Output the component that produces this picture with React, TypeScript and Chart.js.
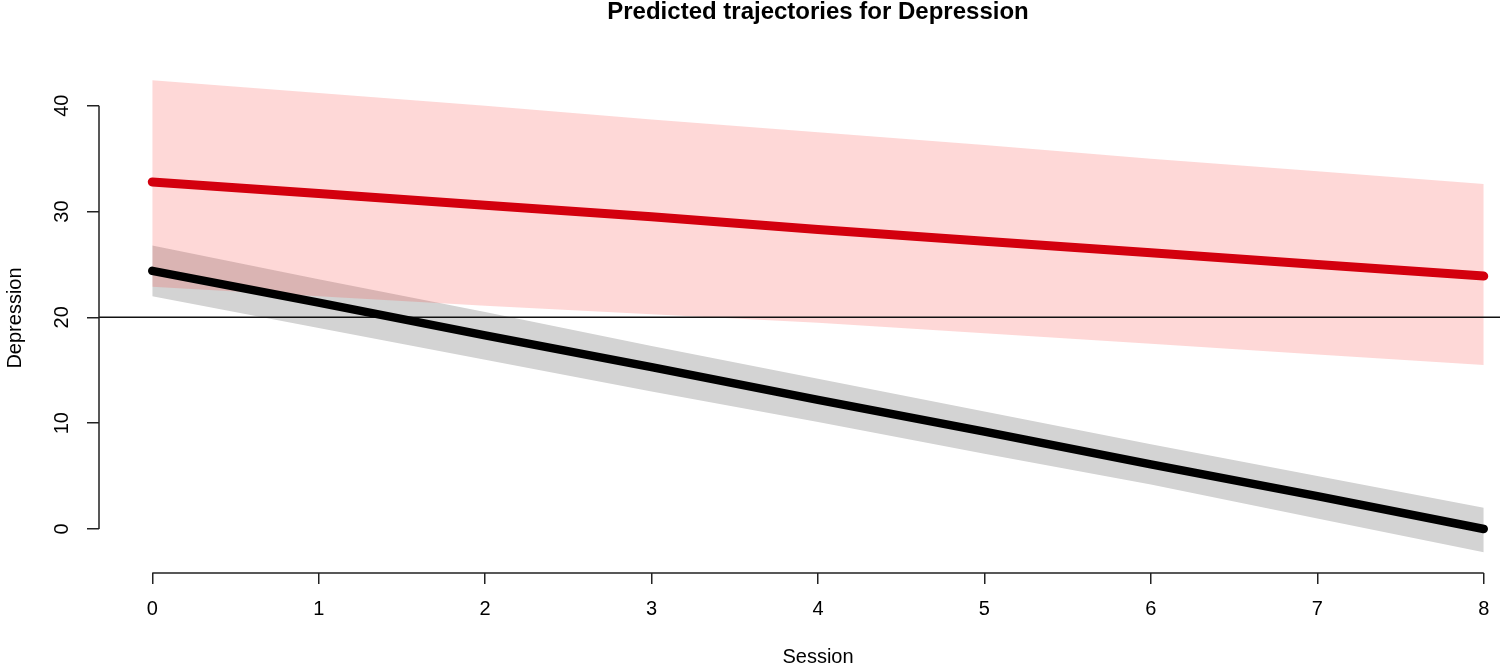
import { useEffect, useRef } from "react";
import { Chart, registerables } from "chart.js";
import type { ChartConfiguration, Plugin, Scale } from "chart.js";

Chart.register(...registerables);

// values
const sessions = [0, 1, 2, 3, 4, 5, 6, 7, 8];
const redMean = [32.8, 31.7, 30.6, 29.5, 28.3, 27.2, 26.1, 25.0, 23.9];
const redUpper = [42.4, 41.2, 40.0, 38.7, 37.5, 36.3, 35.0, 33.8, 32.6];
const redLower = [22.9, 22.0, 21.1, 20.3, 19.5, 18.5, 17.5, 16.5, 15.5];
const blackMean = [24.4, 21.4, 18.3, 15.3, 12.2, 9.2, 6.1, 3.1, 0.0];
const blackUpper = [26.8, 23.6, 20.5, 17.3, 14.2, 11.1, 8.0, 5.0, 2.0];
const blackLower = [22.0, 19.0, 16.0, 13.0, 10.1, 7.1, 4.2, 1.0, -2.2];

const threshold = 20;
const xTicks = [0, 1, 2, 3, 4, 5, 6, 7, 8];
const yTicks = [0, 10, 20, 30, 40];
const xRange = [-0.32, 8.32];
const yRange = [-4.16, 44.04];

const FONT = "'Liberation Sans', Arial, Helvetica, sans-serif";

const pts = (ys: number[]) => sessions.map((x, i) => ({ x, y: ys[i] }));

// R draws the axis line only between the first and last tick
const axisLines: Plugin<"line"> = {
  id: "axisLines",
  afterDraw(chart) {
    const { ctx, scales, chartArea } = chart;
    const xs = scales.x;
    const ys = scales.y;
    ctx.save();
    ctx.strokeStyle = "#222";
    ctx.lineWidth = 1.5;
    ctx.beginPath();
    ctx.moveTo(xs.getPixelForValue(xTicks[0]), chartArea.bottom);
    ctx.lineTo(xs.getPixelForValue(xTicks[xTicks.length - 1]), chartArea.bottom);
    ctx.moveTo(chartArea.left, ys.getPixelForValue(yTicks[0]));
    ctx.lineTo(chartArea.left, ys.getPixelForValue(yTicks[yTicks.length - 1]));
    ctx.stroke();
    ctx.restore();
  },
};

function TrajectoryChart() {
  const canvasRef = useRef<HTMLCanvasElement>(null);
  const chartInstance = useRef<Chart | null>(null);

  useEffect(() => {
    if (!canvasRef.current) return;

    const band = {
      borderWidth: 0,
      pointRadius: 0,
      tension: 0,
    };
    const line = {
      pointRadius: 0,
      tension: 0,
      borderCapStyle: "round" as const,
      borderJoinStyle: "round" as const,
      fill: false,
    };

    const config: ChartConfiguration<"line"> = {
      type: "line",
      data: {
        datasets: [
          { ...band, data: pts(blackUpper), fill: "+1", backgroundColor: "#d3d3d3", order: 10 },
          { ...band, data: pts(blackLower), fill: false, order: 10 },
          { ...band, data: pts(redUpper), fill: "+1", backgroundColor: "rgba(250, 60, 55, 0.2)", order: 9 },
          { ...band, data: pts(redLower), fill: false, order: 9 },
          {
            data: xRange.map((x) => ({ x, y: threshold })),
            borderColor: "#111",
            borderWidth: 1.5,
            pointRadius: 0,
            fill: false,
            order: 5,
          },
          { ...line, data: pts(blackMean), borderColor: "#000", borderWidth: 8.5, order: 2 },
          { ...line, data: pts(redMean), borderColor: "#d3000e", borderWidth: 9, order: 1 },
        ],
      },
      options: {
        responsive: false,
        animation: false,
        // canvas is a bit wider than the page: R's plot region runs past the cropped edge
        layout: { padding: { left: 0, right: 3, top: 0, bottom: 0 } },
        plugins: {
          legend: { display: false },
          tooltip: { enabled: false },
          title: {
            display: true,
            fullSize: false,
            text: "Predicted trajectories for Depression",
            color: "#000",
            font: { family: FONT, size: 24, weight: "bold", lineHeight: 1 },
            padding: { top: 0, bottom: 39 },
          },
        },
        scales: {
          x: {
            type: "linear",
            min: xRange[0],
            max: xRange[1],
            bounds: "data",
            afterBuildTicks: (s: Scale) => {
              s.ticks = xTicks.map((value) => ({ value }));
            },
            afterFit: (s: Scale) => {
              s.height = 96;
            },
            grid: {
              display: true,
              drawOnChartArea: false,
              drawTicks: true,
              tickLength: 11,
              color: "#222",
              lineWidth: 1.5,
            },
            border: { display: false },
            ticks: {
              color: "#000",
              padding: 13.5,
              maxRotation: 0,
              font: { family: FONT, size: 20 },
            },
            title: {
              display: true,
              text: "Session",
              color: "#000",
              font: { family: FONT, size: 20 },
              padding: { top: 0, bottom: 0 },
            },
          },
          y: {
            type: "linear",
            min: yRange[0],
            max: yRange[1],
            bounds: "data",
            afterBuildTicks: (s: Scale) => {
              s.ticks = yTicks.map((value) => ({ value }));
            },
            afterFit: (s: Scale) => {
              s.width = 99;
            },
            grid: {
              display: true,
              drawOnChartArea: false,
              drawTicks: true,
              tickLength: 12,
              color: "#222",
              lineWidth: 1.5,
            },
            border: { display: false },
            ticks: {
              color: "#000",
              padding: 13,
              minRotation: 90,
              maxRotation: 90,
              crossAlign: "center",
              font: { family: FONT, size: 20 },
            },
            title: {
              display: true,
              text: "Depression",
              color: "#000",
              font: { family: FONT, size: 20 },
              padding: { top: 3.5, bottom: 0 },
            },
          },
        },
      },
      plugins: [axisLines],
    };

    chartInstance.current = new Chart(canvasRef.current, config);

    return () => {
      if (chartInstance.current) {
        chartInstance.current.destroy();
        chartInstance.current = null;
      }
    };
  }, []);

  return <canvas ref={canvasRef} width={1540} height={669} style={{ display: "block" }} />;
}

export default function App() {
  useEffect(() => {
    document.body.style.margin = "0";
    document.body.style.overflow = "hidden";
    document.documentElement.style.overflow = "hidden";
  }, []);

  return (
    <div style={{ width: 1540, height: 669, background: "#fff" }}>
      <TrajectoryChart />
    </div>
  );
}
